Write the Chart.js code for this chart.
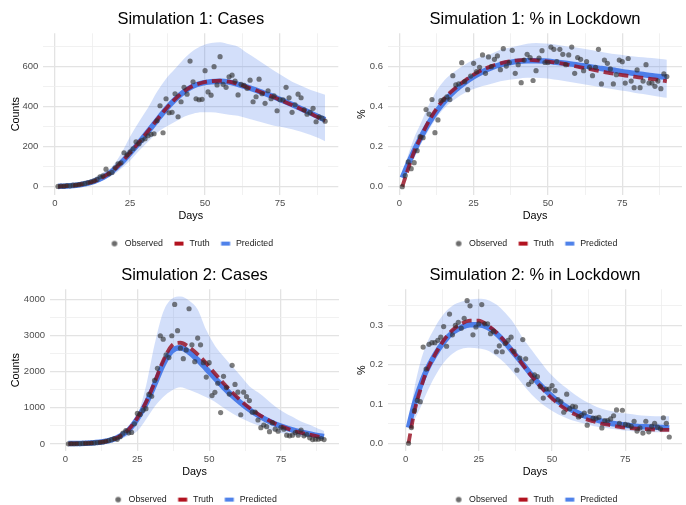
<!DOCTYPE html>
<html>
<head>
<meta charset="utf-8">
<script src="https://cdn.jsdelivr.net/npm/chart.js@4.4.1/dist/chart.umd.min.js"></script>
<style>
  html, body { margin: 0; padding: 0; background: #fff; overflow: hidden; width: 686px; height: 505px; }
  .panel { position: absolute; width: 343px; height: 258px; }
</style>
</head>
<body>
<div class="panel" style="left:0;top:0"><canvas id="c1" width="343" height="258"></canvas></div>
<div class="panel" style="left:343px;top:0"><canvas id="c2" width="343" height="258"></canvas></div>
<div class="panel" style="left:0;top:256px"><canvas id="c3" width="343" height="258"></canvas></div>
<div class="panel" style="left:343px;top:256px"><canvas id="c4" width="343" height="258"></canvas></div>
<script>
const keyDays = [1, 3, 5, 7, 10, 13, 16, 19, 22, 25, 28, 31, 34, 37, 40, 43, 46, 49, 52, 55, 58, 61, 64, 67, 70, 73, 76, 79, 82, 85, 88, 90];

// Simulation 1: Cases
const obs1 = [2, 4, 3, 6, 5, 8, 9, 11, 14, 17, 21, 25, 30, 37, 50, 55, 88, 65, 72, 95,
  115, 120, 170, 160, 175, 190, 225, 215, 232, 240, 255, 262, 265, 330, 405, 270, 440, 370, 372, 465,
  350, 425, 497, 463, 628, 525, 440, 435, 437, 580, 474, 458, 600, 509, 650, 512, 497, 550, 558, 528,
  459, 512, 507, 492, 533, 425, 450, 538, 465, 417, 480, 440, 455, 380, 435, 435, 497, 445, 372, 410,
  463, 445, 385, 363, 372, 392, 325, 350, 343, 328];
const truth1 = [1, 3, 5, 8, 16, 28, 48, 78, 120, 170, 222, 278, 335, 390, 438, 477, 505, 520, 528, 530, 525, 513, 498, 482, 465, 447, 428, 409, 388, 367, 344, 330];
const pred1 = [2, 3, 5, 8, 15, 27, 47, 77, 118, 168, 220, 276, 333, 388, 436, 475, 503, 518, 525, 527, 523, 512, 498, 483, 466, 449, 430, 411, 390, 370, 348, 335];
const upper1 = [6, 8, 11, 16, 28, 45, 72, 100, 165, 250, 325, 395, 475, 540, 590, 640, 680, 705, 718, 722, 712, 700, 668, 640, 610, 580, 552, 525, 505, 485, 470, 460];
const lower1 = [0, 1, 2, 5, 10, 18, 32, 55, 90, 130, 180, 225, 270, 300, 325, 350, 365, 372, 372, 368, 360, 355, 342, 330, 318, 305, 298, 288, 275, 260, 242, 228];

// Simulation 1: % in Lockdown
const obs2 = [0.0, 0.056, 0.124, 0.09, 0.12, 0.18, 0.25, 0.245, 0.386, 0.363,
  0.436, 0.27, 0.334, 0.43, 0.436, 0.449, 0.436, 0.555, 0.509, 0.514,
  0.62, 0.525, 0.485, 0.553, 0.617, 0.576, 0.597, 0.659, 0.567, 0.649,
  0.6, 0.637, 0.654, 0.585, 0.69, 0.603, 0.621, 0.682, 0.567, 0.61,
  0.52, 0.633, 0.662, 0.646, 0.531, 0.58, 0.643, 0.68, 0.621, 0.621,
  0.698, 0.687, 0.626, 0.687, 0.662, 0.61, 0.659, 0.698, 0.567, 0.646,
  0.637, 0.58, 0.626, 0.597, 0.555, 0.597, 0.687, 0.514, 0.633, 0.617,
  0.589, 0.514, 0.56, 0.633, 0.625, 0.518, 0.641, 0.528, 0.495, 0.584,
  0.495, 0.528, 0.61, 0.518, 0.518, 0.502, 0.528, 0.49, 0.564, 0.551];
const truth2 = [0.0, 0.09, 0.175, 0.24, 0.33, 0.40, 0.455, 0.495, 0.53, 0.56, 0.585, 0.603, 0.617, 0.627, 0.632, 0.634, 0.632, 0.628, 0.622, 0.615, 0.606, 0.597, 0.588, 0.579, 0.57, 0.563, 0.556, 0.55, 0.544, 0.538, 0.532, 0.527];
const pred2 = [0.045, 0.115, 0.18, 0.24, 0.32, 0.385, 0.44, 0.485, 0.52, 0.55, 0.575, 0.595, 0.61, 0.62, 0.627, 0.63, 0.63, 0.628, 0.624, 0.619, 0.613, 0.606, 0.6, 0.593, 0.586, 0.58, 0.573, 0.567, 0.561, 0.555, 0.55, 0.547];
const upper2 = [0.065, 0.16, 0.245, 0.31, 0.41, 0.49, 0.545, 0.58, 0.61, 0.635, 0.65, 0.665, 0.685, 0.695, 0.705, 0.715, 0.718, 0.716, 0.712, 0.705, 0.698, 0.692, 0.685, 0.677, 0.668, 0.662, 0.656, 0.651, 0.647, 0.643, 0.638, 0.635];
const lower2 = [0.03, 0.085, 0.14, 0.205, 0.285, 0.355, 0.405, 0.44, 0.468, 0.488, 0.503, 0.515, 0.527, 0.535, 0.54, 0.545, 0.545, 0.542, 0.536, 0.53, 0.522, 0.515, 0.507, 0.5, 0.492, 0.485, 0.478, 0.47, 0.463, 0.456, 0.449, 0.445];

// Simulation 2: Cases
const obs3 = [5, 8, 6, 10, 12, 15, 18, 20, 25, 30, 38, 45, 55, 75, 95, 120, 150, 130, 200, 300,
  370, 310, 320, 560, 846, 818, 930, 977, 1370, 1320, 1759, 2093, 2994, 2900, 2462, 2390, 2994, 3860, 3135, 2650,
  2360, 2600, 3740, 2742, 2276, 2928, 2742, 2250, 1850, 2250, 1340, 1430, 1680, 870, 1870, 1560, 1380, 2175, 1646, 1433,
  809, 1433, 1313, 1200, 880, 880, 664, 450, 525, 480, 340, 590, 410, 355, 460, 410, 243, 225, 243, 318,
  243, 383, 225, 262, 169, 122, 132, 132, 150, 122];
const truth3 = [5, 8, 12, 17, 30, 55, 110, 220, 400, 720, 1150, 1700, 2300, 2720, 2800, 2680, 2480, 2230, 1950, 1680, 1430, 1200, 1000, 830, 685, 560, 460, 375, 310, 255, 205, 180];
const pred3 = [10, 12, 15, 20, 35, 60, 115, 220, 390, 700, 1110, 1640, 2200, 2570, 2660, 2540, 2330, 2080, 1820, 1570, 1340, 1135, 950, 795, 665, 555, 465, 390, 330, 278, 230, 205];
const upper3 = [15, 20, 25, 32, 50, 85, 150, 260, 450, 800, 1600, 2750, 3650, 4020, 4080, 3970, 3720, 3150, 2720, 2420, 2150, 1880, 1600, 1430, 1240, 1040, 880, 750, 620, 530, 420, 360];
const lower3 = [0, 2, 4, 8, 20, 38, 75, 140, 230, 360, 680, 1030, 1300, 1480, 1570, 1500, 1400, 1290, 1170, 1000, 850, 720, 610, 520, 430, 355, 290, 240, 200, 170, 135, 110];

// Simulation 2: % in Lockdown
const obs4 = [0.0, 0.04, 0.083, 0.109, 0.106, 0.245, 0.189, 0.252, 0.256, 0.256,
  0.262, 0.27, 0.297, 0.247, 0.329, 0.276, 0.3, 0.308, 0.293, 0.318,
  0.363, 0.35, 0.276, 0.296, 0.304, 0.353, 0.304, 0.304, 0.279, 0.285,
  0.233, 0.248, 0.233, 0.254, 0.262, 0.27, 0.234, 0.186, 0.217, 0.264,
  0.215, 0.15, 0.157, 0.174, 0.17, 0.144, 0.115, 0.138, 0.138, 0.147,
  0.134, 0.111, 0.106, 0.079, 0.125, 0.088, 0.094, 0.093, 0.067, 0.071,
  0.077, 0.046, 0.081, 0.064, 0.064, 0.066, 0.039, 0.058, 0.058, 0.062,
  0.07, 0.085, 0.051, 0.084, 0.048, 0.046, 0.043, 0.056, 0.031, 0.039,
  0.026, 0.056, 0.029, 0.043, 0.051, 0.041, 0.037, 0.065, 0.051, 0.016];
const truth4 = [0.0, 0.08, 0.135, 0.18, 0.225, 0.262, 0.288, 0.304, 0.312, 0.312, 0.3, 0.282, 0.258, 0.23, 0.2, 0.171, 0.145, 0.121, 0.101, 0.085, 0.073, 0.063, 0.056, 0.05, 0.046, 0.042, 0.039, 0.037, 0.036, 0.035, 0.034, 0.034];
const pred4 = [0.04, 0.1, 0.145, 0.183, 0.225, 0.258, 0.282, 0.295, 0.302, 0.302, 0.295, 0.279, 0.256, 0.229, 0.202, 0.174, 0.148, 0.126, 0.107, 0.092, 0.08, 0.07, 0.062, 0.056, 0.051, 0.048, 0.045, 0.043, 0.042, 0.041, 0.04, 0.039];
const upper4 = [0.05, 0.14, 0.205, 0.25, 0.295, 0.329, 0.35, 0.36, 0.366, 0.368, 0.365, 0.353, 0.332, 0.305, 0.268, 0.238, 0.208, 0.18, 0.158, 0.14, 0.123, 0.108, 0.097, 0.088, 0.082, 0.078, 0.075, 0.072, 0.07, 0.069, 0.069, 0.069];
const lower4 = [0.03, 0.06, 0.09, 0.125, 0.17, 0.205, 0.228, 0.24, 0.243, 0.241, 0.236, 0.222, 0.203, 0.178, 0.15, 0.124, 0.103, 0.087, 0.074, 0.064, 0.056, 0.05, 0.044, 0.04, 0.037, 0.034, 0.032, 0.03, 0.029, 0.028, 0.028, 0.028];

// tick labels / grid lines
const xMajor = [0, 25, 50, 75];
const xMinor = [12.5, 37.5, 62.5, 87.5];
const countMajor1 = [0, 200, 400, 600];
const countMinor1 = [100, 300, 500, 700];
const pctMajor1 = [0, 0.2, 0.4, 0.6];
const pctMinor1 = [0.1, 0.3, 0.5, 0.7];
const countMajor2 = [0, 1000, 2000, 3000, 4000];
const countMinor2 = [500, 1500, 2500, 3500];
const pctMajor2 = [0, 0.1, 0.2, 0.3];
const pctMinor2 = [0.05, 0.15, 0.25, 0.35];

const legendLabels = ['Observed', 'Truth', 'Predicted'];

const DOT = 'rgba(45,45,45,0.62)';
const RED = 'rgba(150,14,32,0.82)';
const BLUE = 'rgba(66,118,232,0.92)';
const RIBBON = 'rgba(70,120,235,0.24)';
const GRID_MAJOR = '#e3e3e3';
const GRID_MINOR = '#eeeeee';

Chart.defaults.font.family = '"Liberation Sans", Arial, Helvetica, sans-serif';

// little pictures for the legend keys
function keyCanvas(kind, color) {
  const c = document.createElement('canvas');
  c.width = 12; c.height = 8;
  const g = c.getContext('2d');
  g.fillStyle = color;
  if (kind === 'dot') {
    g.beginPath(); g.arc(6, 4, 2.8, 0, Math.PI * 2); g.fill();
  } else {
    g.fillRect(1.5, 2, 9, 4);
  }
  return c;
}
const legendKeys = [keyCanvas('dot', 'rgba(45,45,45,0.7)'), keyCanvas('bar', '#b2121f'), keyCanvas('bar', '#4f82ea')];

const near = (list, v) => list.some(t => Math.abs(t - v) < 1e-9);

function makePanel(id, title, yTitle, obs, truth, pred, lower, upper, major, minor, fmt, geo) {
  const pts = arr => keyDays.map((d, i) => ({ x: d, y: arr[i] }));
  new Chart(document.getElementById(id), {
    type: 'line',
    data: {
      datasets: [
        { label: 'Observed', data: obs.map((v, i) => ({ x: i + 1, y: v })), showLine: false,
          pointRadius: 2.6, pointBackgroundColor: DOT, pointBorderWidth: 0, order: 0 },
        { label: 'Truth', data: pts(truth), borderColor: RED, borderWidth: 3.8, borderDash: [10, 5],
          pointRadius: 0, cubicInterpolationMode: 'monotone', fill: false, order: 1 },
        { label: 'Predicted', data: pts(pred), borderColor: BLUE, borderWidth: 5.5,
          pointRadius: 0, cubicInterpolationMode: 'monotone', fill: false, order: 2 },
        { label: 'lower', data: pts(lower), borderWidth: 0, pointRadius: 0,
          cubicInterpolationMode: 'monotone', fill: false, order: 3 },
        { label: 'upper', data: pts(upper), borderWidth: 0, pointRadius: 0, backgroundColor: RIBBON,
          cubicInterpolationMode: 'monotone', fill: '-1', order: 4 }
      ]
    },
    options: {
      responsive: false,
      animation: false,
      events: [],
      layout: { padding: { left: 0, right: geo.padRight, top: 0, bottom: 0 } },
      scales: {
        x: {
          type: 'linear', min: geo.x[0], max: geo.x[1], bounds: 'data',
          afterBuildTicks: s => { s.ticks = xMajor.concat(xMinor).sort((a, b) => a - b).map(v => ({ value: v })); },
          afterFit: s => { s.height = 34.2; },
          ticks: { autoSkip: false, maxRotation: 0, padding: 2.5, color: '#4d4d4d', font: { size: 9.5 },
            callback: v => near(xMajor, v) ? String(v) : '' },
          grid: { drawTicks: false, color: c => near(xMajor, c.tick.value) ? GRID_MAJOR : GRID_MINOR,
            lineWidth: c => near(xMajor, c.tick.value) ? 1.3 : 0.8 },
          border: { display: false },
          title: { display: true, text: 'Days', color: '#000', font: { size: 10.8 }, padding: { top: 0, bottom: 6.2 } }
        },
        y: {
          type: 'linear', min: geo.y[0], max: geo.y[1], bounds: 'data',
          afterBuildTicks: s => { s.ticks = major.concat(minor).sort((a, b) => a - b).map(v => ({ value: v })); },
          afterFit: s => { s.width = geo.yWidth; },
          ticks: { autoSkip: false, padding: 5, color: '#4d4d4d', font: { size: 9.5 },
            callback: v => near(major, v) ? fmt(v) : '' },
          grid: { drawTicks: false, color: c => near(major, c.tick.value) ? GRID_MAJOR : GRID_MINOR,
            lineWidth: c => near(major, c.tick.value) ? 1.3 : 0.8 },
          border: { display: false },
          title: { display: true, text: yTitle, color: '#000', font: { size: 10.8 }, padding: { top: geo.yTitlePad, bottom: 0 } }
        }
      },
      plugins: {
        title: { display: true, text: title, color: '#000', fullSize: false,
          font: { size: 16.5, weight: 'normal' }, padding: { top: 10, bottom: 3.5 } },
        legend: {
          position: 'bottom', fullSize: false,
          labels: {
            usePointStyle: true, pointStyleWidth: 12, padding: 10, color: '#1a1a1a', font: { size: 8.8 },
            generateLabels: () => legendLabels.map((t, i) => ({
              text: t, pointStyle: legendKeys[i], fillStyle: 'transparent', strokeStyle: 'transparent',
              lineWidth: 0, hidden: false, datasetIndex: i, fontColor: '#1a1a1a'
            }))
          }
        },
        tooltip: { enabled: false }
      }
    }
  });
}

const intFmt = v => String(Math.round(v));
const pctFmt = v => v.toFixed(1);

makePanel('c1', 'Simulation 1: Cases', 'Counts', obs1, truth1, pred1, lower1, upper1, countMajor1, countMinor1, intFmt,
  { x: [-3.9, 94.4], y: [-41, 767], yWidth: 43.3, padRight: 4.7, yTitlePad: 9.5 });
makePanel('c2', 'Simulation 1: % in Lockdown', '%', obs2, truth2, pred2, lower2, upper2, pctMajor1, pctMinor1, pctFmt,
  { x: [-3.8, 95.1], y: [-0.0415, 0.767], yWidth: 45, padRight: 1.3, yTitlePad: 13 });
makePanel('c3', 'Simulation 2: Cases', 'Counts', obs3, truth3, pred3, lower3, upper3, countMajor2, countMinor2, intFmt,
  { x: [-5.4, 95.2], y: [-194, 4278], yWidth: 50, padRight: 3, yTitlePad: 9.5 });
makePanel('c4', 'Simulation 2: % in Lockdown', '%', obs4, truth4, pred4, lower4, upper4, pctMajor2, pctMinor2, pctFmt,
  { x: [-6.0, 94.35], y: [-0.0197, 0.392], yWidth: 45, padRight: 1.3, yTitlePad: 13 });
</script>
</body>
</html>
